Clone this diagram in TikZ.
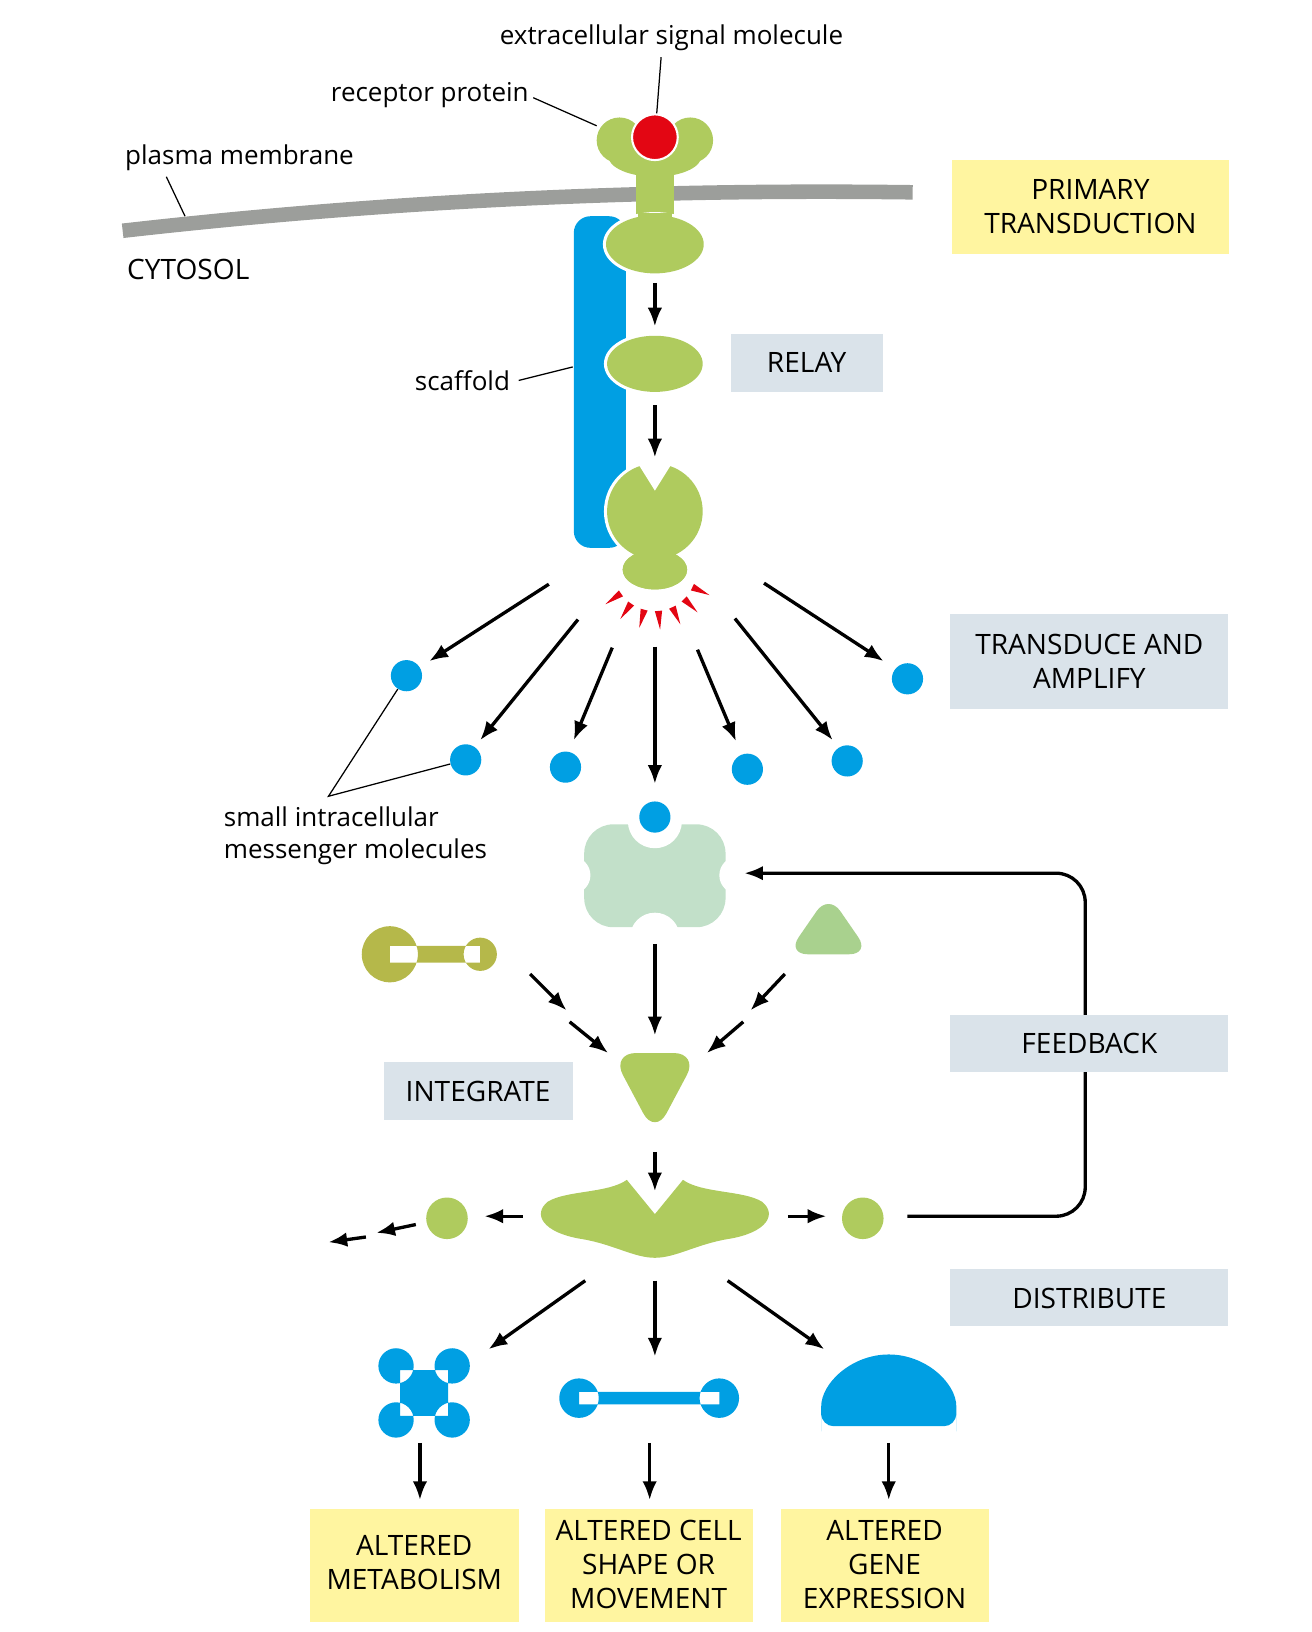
\documentclass[tikz,border=0pt]{standalone}
\usepackage{fontspec}
\setmainfont{Open Sans}
\usetikzlibrary{arrows.meta,calc}
\definecolor{grn}{HTML}{AFCB5E}
\definecolor{lgrn}{HTML}{C2E0C9}
\definecolor{hump}{HTML}{A9D18E}
\definecolor{olive}{HTML}{B5B84A}
\definecolor{blu}{HTML}{009FE3}
\definecolor{rd}{HTML}{E30613}
\definecolor{ylw}{HTML}{FFF5A0}
\definecolor{gbox}{HTML}{DAE3EA}
\definecolor{mem}{HTML}{9C9E9B}
\begin{document}
\begin{tikzpicture}[x=0.5pt,y=-0.5pt,
  arr/.style={-{Latex[length=9pt,width=7pt]},line width=1.6pt},
  lbl/.style={font=\fontsize{12.5}{15}\selectfont,inner sep=0pt},
  captxt/.style={font=\fontsize{13.5}{16.5}\selectfont,align=center,inner sep=0pt},
  ybox/.style={fill=ylw},
  gb/.style={fill=gbox},
  ptr/.style={line width=0.6pt}]
\useasboundingbox (0,0) rectangle (1262,1570);
% membrane
\draw[mem,line width=7pt] (118,222) .. controls (400,190) and (650,182) .. (878,185);
% scaffold
\fill[blu,rounded corners=8pt] (552,208) rectangle (602,527);
% receptor
\fill[grn] (596,135) circle (22) (664,135) circle (22) (630,150) ellipse [x radius=45,y radius=20];
\fill[grn] (612,150) rectangle (648,220);
\node[circle,fill=rd,draw=white,line width=1pt,minimum width=22pt,inner sep=0pt] (sig) at (630,132) {};
\coordinate (rec) at (574,121);
\draw[white,line width=3pt] (630,235) ellipse [x radius=47,y radius=28];
\fill[grn] (630,235) ellipse [x radius=47,y radius=28];
\fill[grn] (614,205) rectangle (646,220);
% relay
\draw[white,line width=3pt] (630,350) ellipse [x radius=46,y radius=27];
\fill[grn] (630,350) ellipse [x radius=46,y radius=27];
% third shape
\draw[white,line width=3pt] (630,492) circle (46) (630,548) ellipse [x radius=31,y radius=19];
\fill[grn] (630,492) circle (46) (630,548) ellipse [x radius=31,y radius=19];
\fill[grn] (612,515) rectangle (648,545);
\fill[white] (610,440) -- (630,472) -- (650,440) -- cycle;
% red spikes
\foreach \a in {25,45,...,155}{
  \fill[rd] ($(630,548)+(\a-5:40)$) -- ($(630,548)+(\a:58)$) -- ($(630,548)+(\a+5:40)$) -- cycle;}
\fill[grn] (630,548) ellipse [x radius=31,y radius=19];
\draw[arr] (630,272) -- (630,314);
\draw[arr] (630,390) -- (630,440);
% amplify arrows and dots
\foreach \n/\x/\y in {d1/391/650,d2/448/731,d3/544/738,d5/719/740,d6/815/732,d7/873/653,d4/630/786}
  \node[circle,fill=blu,minimum width=15pt,inner sep=0pt] (\n) at (\x,\y) {};
\draw[arr] (528,562) -- (413,636);
\draw[arr] (556,596) -- (462,712);
\draw[arr] (589,623) -- (552,712);
\draw[arr] (630,622) -- (630,754);
\draw[arr] (671,625) -- (708,713);
\draw[arr] (707,595) -- (801,712);
\draw[arr] (735,561) -- (850,636);
\coordinate (sm) at (316,766);
\draw[ptr] (d1) -- (sm) -- (d2);
\node[lbl,align=left,anchor=north west] (smt) at (215,776) {small intracellular\\messenger molecules};
% light green cross
\fill[lgrn,rounded corners=14pt] (562,793) rectangle (698,892);
\fill[white] (630,790) circle (26) (630,902) circle (24) (550,842) circle (18) (710,842) circle (18);
\node[circle,fill=blu,minimum width=15pt,inner sep=0pt] at (630,786) {};
% dumbbell olive
\fill[olive] (375,918) circle (27) (462,918) circle (16) (375,910) rectangle (462,926);
% hump
\fill[hump,rounded corners=10pt] (757,918) -- (797,860) -- (837,918) -- cycle;
% arrows to integrate
\draw[arr] (510,937) -- (545,972);
\draw[arr] (548,983) -- (585,1013);
\draw[arr] (755,937) -- (722,972);
\draw[arr] (715,983) -- (680,1013);
\draw[arr] (630,908) -- (630,996);
% integrate shape
\fill[grn,rounded corners=12pt] (588,1013) -- (672,1013) -- (630,1092) -- cycle;
\draw[arr] (630,1108) -- (630,1146);
% distribute shape
\fill[grn] (630,1168) -- (603,1135) .. controls (585,1148) and (545,1145) .. (527,1156)
  .. controls (512,1168) and (522,1186) .. (560,1192) .. controls (590,1197) and (610,1210) .. (630,1210)
  .. controls (650,1210) and (670,1197) .. (700,1192) .. controls (738,1186) and (748,1168) .. (733,1156)
  .. controls (715,1145) and (675,1148) .. (657,1135) -- cycle;
\node[circle,fill=grn,minimum width=20pt,inner sep=0pt] (gl) at (430,1172) {};
\node[circle,fill=grn,minimum width=20pt,inner sep=0pt] (gr) at (830,1172) {};
\draw[arr] (503,1170) -- (466,1170);
\draw[arr] (400,1178) -- (362,1186);
\draw[arr] (352,1190) -- (316,1195);
\draw[arr] (758,1170) -- (795,1170);
\coordinate (fb) at (716,840);
\draw[line width=1.6pt,rounded corners=14pt,-{Latex[length=9pt,width=7pt]}] (873,1170) -- (1044,1170) -- (1044,840) -- (fb);
% down arrows
\draw[arr] (563,1232) -- (470,1298);
\draw[arr] (630,1232) -- (630,1305);
\draw[arr] (700,1232) -- (793,1298);
% blue cross
\fill[blu] (381,1314) circle (17) (435,1314) circle (17) (381,1366) circle (17) (435,1366) circle (17) (385,1318) rectangle (431,1362);
% blue dumbbell
\fill[blu] (557,1345) circle (19) (692,1345) circle (19) (557,1339) rectangle (692,1351);
% dome
\fill[blu,rounded corners=6pt] (790,1372) -- (790,1365) arc[start angle=180,end angle=0,x radius=65,y radius=-62] -- (920,1372) -- cycle;
\draw[arr] (404,1388) -- (404,1443);
\draw[arr] (625,1388) -- (625,1443);
\draw[arr] (855,1388) -- (855,1443);
% boxes
\fill[ybox] (298,1452) rectangle (499,1560); \node[captxt] (b1) at (398.5,1503) {ALTERED\\METABOLISM};
\fill[ybox] (524,1452) rectangle (724,1560); \node[captxt] (b2) at (624,1505) {ALTERED CELL\\SHAPE OR\\MOVEMENT};
\fill[ybox] (751,1452) rectangle (951,1560); \node[captxt] (b3) at (851,1505) {ALTERED\\GENE\\EXPRESSION};
\fill[ybox] (916,154) rectangle (1182,244); \node[captxt] (pt) at (1049,199) {PRIMARY\\TRANSDUCTION};
\fill[gb] (703,321) rectangle (849,377); \node[captxt] (re) at (776,349) {RELAY};
\fill[gb] (914,591) rectangle (1181,682); \node[captxt] (ta) at (1048,636) {TRANSDUCE AND\\AMPLIFY};
\fill[gb] (914,976) rectangle (1181,1031); \node[captxt] (fbk) at (1048,1004) {FEEDBACK};
\fill[gb] (369,1022) rectangle (551,1077); \node[captxt] (in) at (460,1050) {INTEGRATE};
\fill[gb] (914,1221) rectangle (1181,1276); \node[captxt] (di) at (1048,1249) {DISTRIBUTE};
% labels
\node[lbl] (ext) at (646,36) {extracellular signal molecule};
\draw[ptr] (636,55) -- (sig);
\node[lbl,anchor=east] (rp) at (509,91) {receptor protein};
\draw[ptr] ($(rp.east)+(4,3)$) -- (rec);
\node[lbl,anchor=west] (pm) at (120,152) {plasma membrane};
\coordinate (pmp) at (178,208);
\draw[ptr] (160,170) -- (pmp);
\node[captxt,anchor=west] (cy) at (122,259) {CYTOSOL};
\node[lbl,anchor=east] (sc) at (491,366) {scaffold};
\coordinate (scp) at (551,353);
\draw[ptr] ($(sc.east)+(8,0)$) -- (scp);
\end{tikzpicture}
\end{document}
